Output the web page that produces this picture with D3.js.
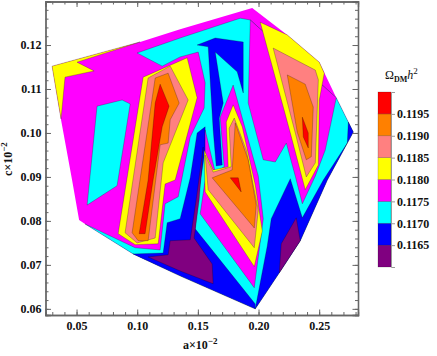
<!DOCTYPE html>
<html>
<head>
<meta charset="utf-8">
<style>
  html, body { margin: 0; background: #fff; }
  text { font-family: "Liberation Serif", serif; font-weight: bold; fill: #111; }
</style>
<script src="https://cdn.jsdelivr.net/npm/d3@7"></script>
</head>
<body>
<script>
// [a, c] vertices of the filled contour regions
const hull = [[.0298,.1152],[.1024,.1207],[.1354,.1236],[.1948,.1284],[.2237,.1223],[.2501,.1161],[.2641,.1080],[.2781,.1002],[.2567,.0893],[.2344,.0755],[.2171,.0682],[.1973,.0600],[.1354,.0675],[.0966,.0725],[.0570,.0793],[.0521,.0802],[.0463,.0893],[.0372,.1030]];
const cornerYellow = [[.0298,.1152],[.1024,.1207],[.0504,.1161],[.0645,.1141],[.0405,.1127],[.0372,.1032]];
const leftCyan = [[.0669,.1061],[.0876,.1075],[.0942,.1066],[.0834,.0880],[.0587,.0836]];
const bigCyan = [[.0570,.0793],[.0983,.0739],[.1189,.0734],[.1230,.0839],[.1338,.0855],[.1437,.0991],[.1552,.1057],[.1560,.1114],[.1503,.1184],[.1354,.1173],[.1206,.1152],[.0999,.1182],[.1354,.1216],[.1849,.1261],[.1932,.1257],[.2641,.1080],[.2781,.1002],[.2567,.0893],[.2344,.0755],[.2171,.0682],[.1973,.0600],[.1354,.0675],[.0966,.0725]];
const rightMagenta = [[.1932,.1257],[.2641,.1080],[.2550,.0961],[.2468,.0902],[.2361,.0839],[.2303,.0902],[.2229,.0977],[.2138,.0934],[.2039,.0939],[.1915,.1068]];
const rightBlue = [[.2105,.0805],[.2262,.0896],[.2361,.0807],[.2534,.0893],[.2732,.0977],[.2740,.1025],[.2781,.1002],[.2567,.0893],[.2344,.0755],[.2171,.0682],[.1973,.0600],[.2072,.0743]];
const lowBlue = [[.0966,.0725],[.1214,.0727],[.1247,.0796],[.1354,.0805],[.1437,.0898],[.1494,.1000],[.1560,.1014],[.1560,.0961],[.1503,.0855],[.1478,.0782],[.1973,.0611],[.1973,.0600],[.1354,.0675]];
const lowPurple = [[.1090,.0718],[.1255,.0723],[.1272,.0755],[.1437,.0757],[.1486,.0848],[.1544,.0968],[.1511,.0848],[.1469,.0761],[.1618,.0702],[.1626,.0657],[.1354,.0686]];
const rightPurple = [[.2187,.0748],[.2311,.0807],[.2344,.0755],[.2171,.0682]];
const topBlue = [[.1494,.1200],[.1643,.1216],[.1874,.1207],[.1874,.1091],[.1824,.1139],[.1643,.1184],[.1709,.1068],[.1676,.1034],[.1701,.0927],[.1651,.0925],[.1626,.1007],[.1585,.1196]];
const midMagenta = [[.1791,.1109],[.1998,.0902],[.2039,.0805],[.1965,.0648],[.1519,.0816],[.1560,.0893],[.1560,.1007],[.1643,.0911],[.1717,.0923],[.1684,.1036]];
const midYellow = [[.1791,.1064],[.1866,.1014],[.1973,.0882],[.2031,.0777],[.1965,.0696],[.1560,.0866],[.1552,.0961],[.1626,.0916],[.1750,.0923],[.1734,.1025]];
const midSalmon = [[.1800,.1034],[.1899,.0961],[.1998,.0825],[.1965,.0739],[.1585,.0871],[.1560,.0950],[.1626,.0911],[.1775,.0923],[.1758,.1011]];
const midOrange = [[.1808,.1023],[.1915,.0939],[.1981,.0836],[.1965,.0784],[.1618,.0898],[.1783,.0916]];
const midRed = [[.1767,.0898],[.1833,.0898],[.1857,.0866]];
const leftYellow = [[.1049,.1127],[.1412,.1171],[.1494,.1080],[.1313,.0893],[.1230,.0884],[.1173,.0748],[.0983,.0746],[.0843,.0771]];
const leftSalmon = [[.1090,.1125],[.1272,.1152],[.1420,.1075],[.1214,.0932],[.1148,.0761],[.0999,.0750],[.0900,.0773]];
const leftOrange = [[.1148,.1125],[.1255,.1136],[.1346,.1068],[.1272,.1030],[.1255,.0977],[.1189,.0973],[.1090,.0755],[.1008,.0755],[.0958,.0773]];
const leftRed = [[.1189,.1111],[.1263,.1061],[.1206,.1014],[.1131,.0893],[.1065,.0771],[.1016,.0771],[.1090,.0893],[.1148,.1068]];
const farYellow = [[.2014,.1252],[.2237,.1223],[.2501,.1161],[.2542,.1136],[.2501,.1075],[.2493,.0927],[.2385,.0871],[.2262,.1000]];
const farSalmon = [[.2121,.1193],[.2468,.1143],[.2493,.1121],[.2468,.0932],[.2394,.0900],[.2303,.1000]];
const farOrange = [[.2237,.1132],[.2385,.1111],[.2451,.1059],[.2435,.0946],[.2394,.0939],[.2319,.1002]];
const farRed = [[.2361,.1036],[.2410,.1000],[.2410,.0966],[.2369,.0991]];

// legend bands, low to high
const bandEdges = [.1160, .1165, .1170, .1175, .1180, .1185, .1190, .1195, .1200];
const bandColors = ['#800080', '#0000ff', '#00ffff', '#ff00ff', '#ffff00', '#ff8080', '#ff8000', '#ff0000'];
const legendTicks = [.1165, .1170, .1175, .1180, .1185, .1190, .1195];

const xMajor = [.05, .10, .15, .20, .25];
const xMinor = d3.range(3, 29).map(d => d / 100);
const yMajor = [.06, .07, .08, .09, .10, .11, .12];
const yMinor = d3.range(30, 65).map(d => d / 500);

// painted back to front, [points, band index]
const layers = [
  [hull, 3], [cornerYellow, 4], [leftCyan, 2], [bigCyan, 2], [rightMagenta, 3],
  [rightBlue, 1], [lowBlue, 1], [lowPurple, 0], [rightPurple, 0], [topBlue, 1],
  [midMagenta, 3], [midYellow, 4], [midSalmon, 5], [midOrange, 6], [midRed, 7],
  [leftYellow, 4], [leftSalmon, 5], [leftOrange, 6], [leftRed, 7],
  [farYellow, 4], [farSalmon, 5], [farOrange, 6], [farRed, 7]
];

const width = 437, height = 356;
const frame = { left: 45.5, right: 358, top: 1.5, bottom: 315 };

const x = d3.scaleLinear().domain([.0244, .282]).range([frame.left, frame.right]);
const y = d3.scaleLinear().domain([.0586, .1299]).range([frame.bottom, frame.top]);

const svg = d3.select('body').append('svg')
  .attr('width', width)
  .attr('height', height)
  .style('display', 'block');

const line = d3.line().x(d => x(d[0])).y(d => y(d[1])).curve(d3.curveLinearClosed);

svg.append('g').selectAll('path')
  .data(layers)
  .join('path')
    .attr('d', d => line(d[0]))
    .attr('fill', d => bandColors[d[1]])
    .attr('stroke', (d, i) => i === 0 ? 'none' : '#000')
    .attr('stroke-opacity', 0.4)
    .attr('stroke-width', 0.6);

// frame ticks: major and minor on all four sides, pointing inwards
function styleAxis(g) {
  g.selectAll('path, line').attr('stroke', '#666');
  g.select('.domain').attr('stroke-width', 1.3);
  g.selectAll('text').attr('font-size', 12).attr('fill', '#111');
}
const fmt = d3.format('.2f');
function addAxis(axisFn, scale, tx, ty, labelled) {
  const vertical = scale === y;
  svg.append('g').attr('transform', `translate(${tx},${ty})`)
    .call(axisFn(scale).tickFormat('').tickSizeOuter(0).tickValues(vertical ? yMinor : xMinor).tickSize(-3))
    .call(styleAxis);
  const major = axisFn(scale).tickValues(vertical ? yMajor : xMajor).tickSizeOuter(0).tickSize(-5.5);
  major.tickFormat(labelled ? fmt : '');
  const g = svg.append('g').attr('transform', `translate(${tx},${ty})`).call(major).call(styleAxis);
  if (labelled) {
    if (vertical) g.selectAll('text').attr('x', -4);
    else g.selectAll('text').attr('y', 6);
  }
}
addAxis(d3.axisBottom, x, 0, frame.bottom, true);
addAxis(d3.axisTop, x, 0, frame.top, false);
addAxis(d3.axisLeft, y, frame.left, 0, true);
addAxis(d3.axisRight, y, frame.right, 0, false);

// axis titles
const xTitle = svg.append('text').attr('x', 183).attr('y', 349).attr('font-size', 12);
xTitle.append('tspan').text('a×10');
xTitle.append('tspan').attr('dy', -5).attr('font-size', 9).text('−2');

const yTitle = svg.append('text')
  .attr('transform', 'translate(12,176) rotate(-90)')
  .attr('font-size', 12);
yTitle.append('tspan').text('c×10');
yTitle.append('tspan').attr('dy', -5).attr('font-size', 9).text('−2');

// legend
const legendY = d3.scaleLinear().domain([.1160, .1200]).range([267, 92]);
const legendX = 378, legendW = 13;

svg.append('g').selectAll('rect')
  .data(bandColors)
  .join('rect')
    .attr('x', legendX)
    .attr('width', legendW)
    .attr('y', (d, i) => legendY(bandEdges[i + 1]))
    .attr('height', (d, i) => legendY(bandEdges[i]) - legendY(bandEdges[i + 1]))
    .attr('fill', d => d)
    .attr('stroke', '#000')
    .attr('stroke-opacity', 0.3)
    .attr('stroke-width', 0.6);

const legendAxis = svg.append('g')
  .attr('transform', `translate(${legendX + legendW},0)`)
  .call(d3.axisRight(legendY).tickValues(legendTicks).tickFormat(d3.format('.4f')).tickSize(4).tickPadding(2));
legendAxis.select('.domain').attr('stroke', '#999');
legendAxis.selectAll('line').attr('stroke', '#999');
legendAxis.selectAll('text').attr('font-size', 12).attr('fill', '#111');

const legendTitle = svg.append('text').attr('x', 385).attr('y', 79).attr('font-size', 12).style('font-weight', 'normal');
legendTitle.append('tspan').text('Ω');
legendTitle.append('tspan').attr('dy', 3).attr('font-size', 8).attr('font-weight', 'bold').text('DM');
legendTitle.append('tspan').attr('dy', -3).attr('font-style', 'italic').text('h');
legendTitle.append('tspan').attr('dy', -5).attr('font-size', 9).text('2');
</script>
</body>
</html>
